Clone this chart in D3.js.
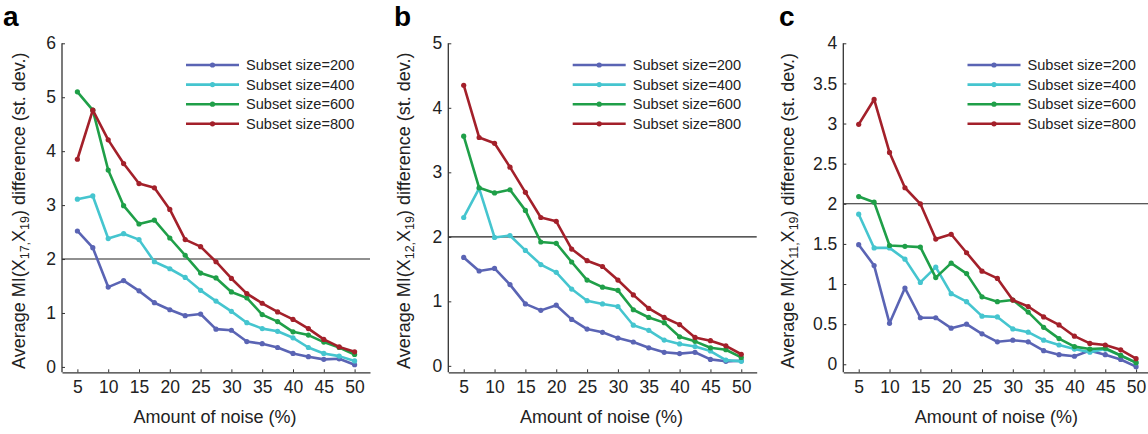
<!DOCTYPE html>
<html>
<head>
<meta charset="utf-8">
<script src="https://cdn.jsdelivr.net/npm/d3@7"></script>
<style>
  html, body { margin: 0; padding: 0; background: #fff; }
  svg { display: block; font-family: "Liberation Sans", Arial, Helvetica, sans-serif; }
</style>
</head>
<body>
<svg id="chart" width="1148" height="434"></svg>
<script>
// ---- Data ----
const noise = [5, 7.5, 10, 12.5, 15, 17.5, 20, 22.5, 25, 27.5, 30, 32.5, 35, 37.5, 40, 42.5, 45, 47.5, 50];
const xTicks = [5, 10, 15, 20, 25, 30, 35, 40, 45, 50];
const seriesNames = ["Subset size=200", "Subset size=400", "Subset size=600", "Subset size=800"];
const panelLetters = ["a", "b", "c"];
const pairSubs = [["17", "19"], ["12", "19"], ["11", "19"]];
const yMaxes = [6, 5, 4];
const yTicksA = [0, 1, 2, 3, 4, 5, 6];
const yTicksB = [0, 1, 2, 3, 4, 5];
const yTicksC = [0, 0.5, 1, 1.5, 2, 2.5, 3, 3.5, 4];
const threshold = 2;

const a200 = [2.52, 2.21, 1.48, 1.60, 1.41, 1.19, 1.06, 0.95, 0.98, 0.70, 0.68, 0.47, 0.43, 0.36, 0.25, 0.19, 0.14, 0.15, 0.04];
const a400 = [3.11, 3.17, 2.38, 2.47, 2.36, 1.95, 1.82, 1.66, 1.42, 1.22, 1.03, 0.82, 0.71, 0.66, 0.54, 0.36, 0.25, 0.20, 0.11];
const a600 = [5.10, 4.76, 3.65, 2.99, 2.65, 2.72, 2.39, 2.07, 1.74, 1.65, 1.39, 1.28, 0.97, 0.84, 0.65, 0.59, 0.46, 0.36, 0.23];
const a800 = [3.85, 4.76, 4.21, 3.77, 3.40, 3.32, 2.92, 2.36, 2.23, 1.95, 1.64, 1.36, 1.18, 1.02, 0.88, 0.71, 0.51, 0.37, 0.28];

const b200 = [1.68, 1.47, 1.51, 1.26, 0.96, 0.86, 0.94, 0.72, 0.57, 0.52, 0.43, 0.37, 0.28, 0.21, 0.19, 0.21, 0.10, 0.07, 0.08];
const b400 = [2.30, 2.75, 1.99, 2.02, 1.79, 1.57, 1.45, 1.19, 1.01, 0.96, 0.92, 0.63, 0.55, 0.40, 0.34, 0.30, 0.23, 0.09, 0.07];
const b600 = [3.56, 2.76, 2.68, 2.73, 2.41, 1.92, 1.90, 1.61, 1.33, 1.22, 1.17, 0.87, 0.75, 0.67, 0.45, 0.38, 0.28, 0.25, 0.13];
const b800 = [4.35, 3.54, 3.45, 3.08, 2.69, 2.30, 2.24, 1.81, 1.63, 1.54, 1.33, 1.10, 0.89, 0.75, 0.64, 0.44, 0.39, 0.31, 0.18];

const c200 = [1.49, 1.23, 0.51, 0.95, 0.58, 0.58, 0.45, 0.50, 0.38, 0.28, 0.30, 0.28, 0.17, 0.12, 0.10, 0.17, 0.12, 0.06, -0.03];
const c400 = [1.87, 1.45, 1.45, 1.31, 1.02, 1.21, 0.88, 0.78, 0.60, 0.59, 0.44, 0.40, 0.30, 0.24, 0.19, 0.15, 0.19, 0.11, 0.02];
const c600 = [2.09, 2.02, 1.48, 1.47, 1.46, 1.08, 1.26, 1.13, 0.84, 0.78, 0.80, 0.65, 0.46, 0.32, 0.22, 0.19, 0.20, 0.11, 0.02];
const c800 = [2.99, 3.30, 2.64, 2.20, 2.00, 1.56, 1.62, 1.39, 1.16, 1.07, 0.80, 0.72, 0.59, 0.49, 0.35, 0.26, 0.24, 0.18, 0.07];

// ---- Styles / layout ----
const colors = ["#5a64b4", "#45c5cf", "#1f9f48", "#a3202a"];
const panelData = [[a200, a400, a600, a800], [b200, b400, b600, b800], [c200, c400, c600, c800]];
const panelYTicks = [yTicksA, yTicksB, yTicksC];
const layout = [
  { left: 62,    right: 370,    letterX: 3,   ylabX: 19 },
  { left: 448.3, right: 756.7,  letterX: 394, ylabX: 404 },
  { left: 843.3, right: 1151.5, letterX: 779, ylabX: 788 }
];
const plotTop = 43.3, plotBottom = 372.3;

const svg = d3.select("#chart");

panelLetters.forEach((letter, pi) => {
  const L = layout[pi];
  const x = d3.scaleLinear().domain([2.5, 52.5]).range([L.left, L.right]);
  const y = d3.scaleLinear().domain([-0.1, yMaxes[pi]]).range([plotBottom, plotTop]);
  const g = svg.append("g");

  // threshold line
  g.append("line")
    .attr("x1", x(2.5)).attr("x2", x(52.5))
    .attr("y1", y(threshold)).attr("y2", y(threshold))
    .attr("stroke", "#222").attr("stroke-width", 1.1);

  // axes
  const xAxis = d3.axisBottom(x).tickValues(xTicks).tickSize(-3).tickPadding(8).tickSizeOuter(0)
    .tickFormat(d3.format("d"));
  const gx = g.append("g").attr("transform", `translate(0,${plotBottom})`).call(xAxis);
  const yAxis = d3.axisLeft(y).tickValues(panelYTicks[pi]).tickSize(-3).tickPadding(6).tickSizeOuter(0)
    .tickFormat(d => d3.format("")(d));
  const gy = g.append("g").attr("transform", `translate(${L.left},0)`).call(yAxis);
  gy.select(".domain").attr("d", `M0,${plotBottom}V${y(yMaxes[pi])}`);
  [gx, gy].forEach(ax => {
    ax.select(".domain").attr("stroke", "#333").attr("stroke-width", 1.3);
    ax.selectAll(".tick line").attr("stroke", "#333").attr("stroke-width", 1);
    ax.selectAll(".tick text").attr("fill", "#222").style("font-size", "17.5px")
      .style("font-family", "'Liberation Sans', Arial, sans-serif");
  });
  gx.selectAll(".tick text").attr("dy", "0.75em");

  // series
  const line = d3.line().x((d, i) => x(noise[i])).y(d => y(d));
  panelData[pi].forEach((vals, si) => {
    g.append("path").datum(vals)
      .attr("d", line).attr("fill", "none")
      .attr("stroke", colors[si]).attr("stroke-width", 2.6)
      .attr("stroke-linejoin", "round");
    g.selectAll(null).data(vals).enter().append("circle")
      .attr("cx", (d, i) => x(noise[i])).attr("cy", d => y(d))
      .attr("r", 2.6).attr("fill", colors[si]);
  });

  // legend
  const lg = g.append("g");
  seriesNames.forEach((name, si) => {
    const ly = 65 + si * 19.6;
    lg.append("line").attr("x1", L.right - 184).attr("x2", L.right - 131)
      .attr("y1", ly).attr("y2", ly)
      .attr("stroke", colors[si]).attr("stroke-width", 2.6);
    lg.append("circle").attr("cx", L.right - 157.5).attr("cy", ly).attr("r", 2.6).attr("fill", colors[si]);
    lg.append("text").attr("x", L.right - 124).attr("y", ly).attr("dy", "0.36em")
      .style("font-size", "14.6px").attr("fill", "#222").text(name);
  });

  // x label
  g.append("text").attr("x", (L.left + L.right) / 2 - 1).attr("y", 423)
    .attr("text-anchor", "middle").style("font-size", "18px").attr("fill", "#222")
    .text("Amount of noise (%)");

  // y label
  const yl = g.append("text")
    .attr("transform", `translate(${L.ylabX},${(plotTop + plotBottom) / 2 + 3}) rotate(-90)`)
    .attr("text-anchor", "middle").attr("dy", "0.36em")
    .style("font-size", "18px").attr("fill", "#222");
  yl.append("tspan").text("Average MI(X");
  yl.append("tspan").attr("baseline-shift", "-28%").style("font-size", "12.5px").text(pairSubs[pi][0] + ",");
  yl.append("tspan").text("X");
  yl.append("tspan").attr("baseline-shift", "-28%").style("font-size", "12.5px").text(pairSubs[pi][1]);
  yl.append("tspan").text(") difference (st. dev.)");

  // panel letter
  g.append("text").attr("x", L.letterX).attr("y", 26)
    .style("font-size", "28px").style("font-weight", "bold").attr("fill", "#000")
    .text(letter);
});
</script>
</body>
</html>
